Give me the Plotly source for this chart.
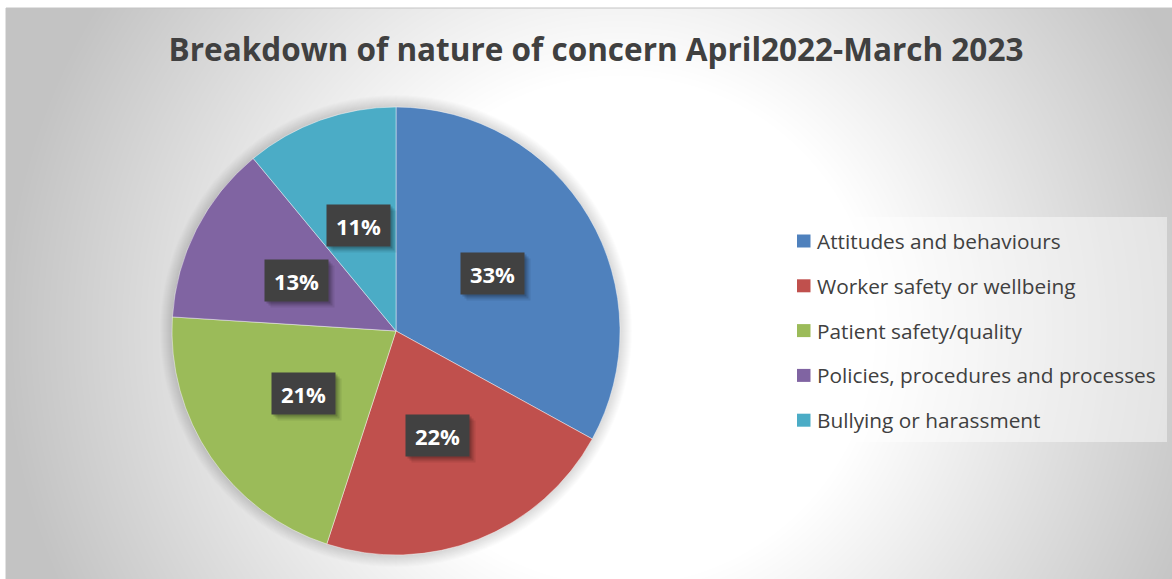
import base64
import math
import struct
import zlib

import numpy as np
import plotly.graph_objects as go

# ---- data ----
categories = [
    "Attitudes and behaviours",
    "Worker safety or wellbeing",
    "Patient safety/quality",
    "Policies, procedures and processes",
    "Bullying or harassment",
]
shares = [33, 22, 21, 13, 11]
colors = ["#4f81bd", "#c0504d", "#9bbb59", "#8064a2", "#4bacc6"]
title_text = "Breakdown of nature of concern April2022-March 2023"

# ---- canvas geometry (pixels) ----
W, H = 1172, 579
FRAME_X0, FRAME_Y0 = 6, 8
PIE_CX, PIE_CY, PIE_R = 396, 331, 224
LEG_X0, LEG_Y0, LEG_X1, LEG_Y1 = 785, 217, 1167, 442
LEG_ROW0, LEG_STEP = 241, 44.8


def px(x):
    return x / W


def py(y):
    return 1 - y / H


def png_gray(arr):
    h, w = arr.shape
    raw = b"".join(b"\x00" + arr[i].tobytes() for i in range(h))

    def chunk(tag, data):
        body = tag + data
        return struct.pack(">I", len(data)) + body + struct.pack(">I", zlib.crc32(body) & 0xFFFFFFFF)

    return (b"\x89PNG\r\n\x1a\n"
            + chunk(b"IHDR", struct.pack(">IIBBBBB", w, h, 8, 0, 0, 0, 0))
            + chunk(b"IDAT", zlib.compress(raw, 9))
            + chunk(b"IEND", b""))


# radial grey-to-white fill of the chart area
fw, fh = W - FRAME_X0, H - FRAME_Y0
yy, xx = np.mgrid[0:fh, 0:fw]
gx = xx + FRAME_X0 - 620.0
gy = yy + FRAME_Y0 - 330.0
dist = np.sqrt(gx ** 2 + gy ** 2)
level = 255 - np.clip((dist - 255) / (620 - 255), 0, 1) * 60
bg_png = png_gray(level.astype(np.uint8))
bg_uri = "data:image/png;base64," + base64.b64encode(bg_png).decode()

fig = go.Figure()
fig.add_trace(go.Pie(
    labels=categories,
    values=shares,
    sort=False,
    direction="clockwise",
    rotation=0,
    marker=dict(colors=colors, line=dict(color="rgba(255,255,255,0.55)", width=0.8)),
    textinfo="none",
    textposition="none",
    hoverinfo="label+percent",
    showlegend=False,
    domain=dict(x=[px(PIE_CX - PIE_R), px(PIE_CX + PIE_R)],
                y=[py(PIE_CY + PIE_R), py(PIE_CY - PIE_R)]),
))

shapes = []
# soft halo around the pie
for k in range(12, 0, -1):
    r = PIE_R + k
    shapes.append(dict(type="circle", xref="paper", yref="paper", layer="below",
                       x0=px(PIE_CX - r), x1=px(PIE_CX + r),
                       y0=py(PIE_CY + r), y1=py(PIE_CY - r),
                       fillcolor="rgba(0,0,0,0.012)", line=dict(width=0)))
# chart frame
shapes.append(dict(type="rect", xref="paper", yref="paper", layer="below",
                   x0=px(FRAME_X0), x1=px(W + 2), y0=py(H + 2), y1=py(FRAME_Y0),
                   fillcolor="rgba(0,0,0,0)", line=dict(color="#c4c4c4", width=1)))
# legend panel
shapes.append(dict(type="rect", xref="paper", yref="paper", layer="below",
                   x0=px(LEG_X0), x1=px(LEG_X1), y0=py(LEG_Y1), y1=py(LEG_Y0),
                   fillcolor="rgba(255,255,255,0.45)", line=dict(width=0)))

annotations = []
# legend entries
for i, (name, col) in enumerate(zip(categories, colors)):
    yc = LEG_ROW0 + i * LEG_STEP
    shapes.append(dict(type="rect", xref="paper", yref="paper", layer="above",
                       x0=px(797), x1=px(810.5), y0=py(yc + 6.5), y1=py(yc - 6.5),
                       fillcolor=col, line=dict(width=0)))
    annotations.append(dict(text=name, x=px(815), y=py(yc), xref="paper", yref="paper",
                            xanchor="left", yanchor="middle", showarrow=False,
                            font=dict(family="Open Sans", size=20.8, color="#404040")))

# percentage labels at half radius along each slice's middle angle
total = sum(shares)
cum = 0.0
box_w, box_h = 63, 41
for v in shares:
    mid = (cum + v / 2) / total * 2 * math.pi
    cum += v
    lx = PIE_CX + 0.5 * PIE_R * math.sin(mid)
    ly = PIE_CY - 0.5 * PIE_R * math.cos(mid)
    for off, alpha in ((6, 0.08), (4, 0.12), (2, 0.16)):
        annotations.append(dict(text=" ", x=px(lx + off), y=py(ly + off), xref="paper", yref="paper",
                                xanchor="center", yanchor="middle", showarrow=False,
                                width=box_w, height=box_h, borderpad=0,
                                bgcolor=f"rgba(0,0,0,{alpha})", font=dict(size=10)))
    annotations.append(dict(text=f"<b>{v / total * 100:.0f}%</b>", x=px(lx), y=py(ly),
                            xref="paper", yref="paper", xanchor="center", yanchor="middle",
                            showarrow=False, width=box_w, height=box_h, borderpad=0,
                            bgcolor="#414141",
                            font=dict(family="Open Sans", size=22, color="#ffffff")))

fig.update_layout(
    width=W, height=H,
    margin=dict(l=0, r=0, t=0, b=0),
    paper_bgcolor="#ffffff",
    plot_bgcolor="rgba(0,0,0,0)",
    title=dict(text=f"<b>{title_text}</b>", x=px(596), y=py(50), xanchor="center", yanchor="middle",
               xref="paper", yref="paper",
               font=dict(family="Open Sans", size=31.5, color="#404040")),
    images=[dict(source=bg_uri, xref="paper", yref="paper", x=px(FRAME_X0), y=py(FRAME_Y0),
                 sizex=fw / W, sizey=fh / H, xanchor="left", yanchor="top",
                 sizing="stretch", layer="below")],
    shapes=shapes,
    annotations=annotations,
    showlegend=False,
)

fig.write_html("out.html")
